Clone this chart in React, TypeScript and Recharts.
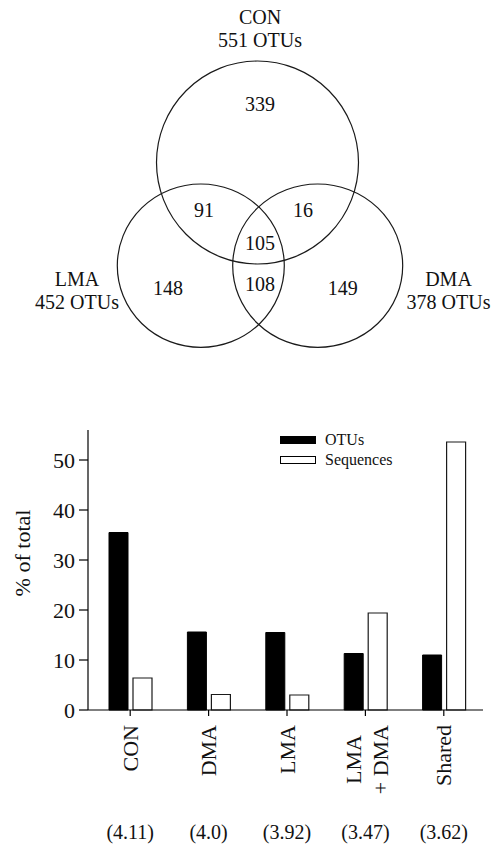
import React from "react"
import { Bar, BarChart, Legend, Scatter, ScatterChart, XAxis, YAxis } from "recharts"

// Venn: sets and region counts
const setNames = ["CON", "LMA", "DMA"]
const setTotals = [551, 452, 378]
const regionNames = ["CON", "CON+LMA", "CON+DMA", "All", "LMA", "LMA+DMA", "DMA"]
const regionCounts = [339, 91, 16, 105, 148, 108, 149]

// bars
const categories = ["CON", "DMA", "LMA", "LMA\n+ DMA", "Shared"]
const otus = [35.5, 15.6, 15.5, 11.3, 11.0]
const sequences = [6.4, 3.1, 3.0, 19.4, 53.6]
const diversity = ["(4.11)", "(4.0)", "(3.92)", "(3.47)", "(3.62)"]
const yTicks = [0, 10, 20, 30, 40, 50]

// venn layout (chart units = px)
const circleLayout = [
  { x: 257.5, y: 162.5, rx: 101, ry: 101.5 },
  { x: 200.8, y: 265.7, rx: 83.5, ry: 81.7 },
  { x: 317.7, y: 265.7, rx: 85, ry: 81.7 },
]
const setLabelPos = [
  { x: 260, y: 28.5 },
  { x: 77, y: 290 },
  { x: 448.5, y: 290 },
]
const regionLabelPos = [
  { x: 260, y: 104 },
  { x: 204, y: 210 },
  { x: 303, y: 210 },
  { x: 260, y: 242.7 },
  { x: 168, y: 288.3 },
  { x: 260, y: 284.3 },
  { x: 342.7, y: 288.3 },
]

const FONT = '"Liberation Serif", "Times New Roman", serif'

const circles = setNames.map((name, i) => ({ name, ...circleLayout[i] }))
const setLabels = setNames.map((name, i) => ({
  lines: [name, `${setTotals[i]} OTUs`],
  ...setLabelPos[i],
}))
const regionLabels = regionNames.map((name, i) => ({
  name,
  lines: [String(regionCounts[i])],
  ...regionLabelPos[i],
}))

const barData = categories.map((c, i) => ({
  name: c,
  otus: otus[i],
  sequences: sequences[i],
  div: diversity[i],
}))

const EllipseShape = (props: any) => {
  const { cx, cy, payload } = props
  return <ellipse cx={cx} cy={cy} rx={payload.rx} ry={payload.ry} fill="none" stroke="#1a1a1a" strokeWidth={1.2} />
}

const TextShape = (props: any) => {
  const { cx, cy, payload } = props
  const n = payload.lines.length
  return (
    <g>
      {payload.lines.map((l: string, k: number) => (
        <text
          key={k}
          x={cx}
          y={cy + (k - (n - 1) / 2) * 23}
          textAnchor="middle"
          dominantBaseline="central"
          fontFamily={FONT}
          fontSize={20}
          fill="#111"
        >
          {l}
        </text>
      ))}
    </g>
  )
}

const CategoryTick = (props: any) => {
  const { x, y, payload, index } = props
  const lines = String(payload.value).split("\n")
  const txt = { fontFamily: FONT, fontSize: 22, fill: "#111", dominantBaseline: "central" as const, textAnchor: "end" as const }
  return (
    <g>
      {lines.length === 1 ? (
        <text transform={`translate(${x},${y + 9}) rotate(-90)`} {...txt}>
          {lines[0]}
        </text>
      ) : (
        <>
          <text transform={`translate(${x - 12},${y + 19}) rotate(-90)`} {...txt}>
            {lines[0]}
          </text>
          <text transform={`translate(${x + 15},${y + 9}) rotate(-90)`} {...txt}>
            {lines[1]}
          </text>
        </>
      )}
      <text x={x} y={y + 116} textAnchor="middle" dominantBaseline="central" fontFamily={FONT} fontSize={20} fill="#111">
        {diversity[index]}
      </text>
    </g>
  )
}

const LegendContent = () => {
  const items = [
    { label: "OTUs", fill: "#000" },
    { label: "Sequences", fill: "#fff" },
  ]
  return (
    <div style={{ fontFamily: FONT, fontSize: 16, color: "#111" }}>
      {items.map((it) => (
        <div key={it.label} style={{ display: "flex", alignItems: "center", height: 20 }}>
          <span
            style={{
              display: "inline-block",
              width: 34,
              height: 6,
              background: it.fill,
              border: "1px solid #000",
              marginRight: 9,
            }}
          />
          <span>{it.label}</span>
        </div>
      ))}
    </div>
  )
}

export default function App() {
  return (
    <div style={{ position: "absolute", left: 0, top: 0, width: 493, height: 845, background: "#fff" }}>
      <ScatterChart width={493} height={410} margin={{ top: 0, right: 0, bottom: 0, left: 0 }}>
        <XAxis type="number" dataKey="x" domain={[0, 493]} hide height={0} />
        <YAxis type="number" dataKey="y" domain={[0, 410]} reversed hide width={0} />
        <Scatter data={circles} shape={EllipseShape} isAnimationActive={false} />
        <Scatter data={setLabels} shape={TextShape} isAnimationActive={false} />
        <Scatter data={regionLabels} shape={TextShape} isAnimationActive={false} />
      </ScatterChart>
      <BarChart
        width={493}
        height={435}
        data={barData}
        margin={{ top: 20, right: 10, bottom: 0, left: 0 }}
        barSize={19}
        barGap={5}
      >
        <XAxis
          dataKey="name"
          interval={0}
          height={135}
          padding={{ left: 3, right: 0 }}
          tickSize={6}
          tickMargin={0}
          axisLine={{ stroke: "#000", strokeWidth: 1.2 }}
          tickLine={{ stroke: "#000", strokeWidth: 1.2 }}
          tick={<CategoryTick />}
        />
        <YAxis
          domain={[0, 56]}
          ticks={yTicks}
          width={88}
          tickSize={9}
          tickMargin={4}
          axisLine={{ stroke: "#000", strokeWidth: 1.2 }}
          tickLine={{ stroke: "#000", strokeWidth: 1.2 }}
          tick={{ fontFamily: FONT, fontSize: 22, fill: "#111" }}
          label={{
            content: (p: any) => {
              const vb = p.viewBox
              return (
                <text
                  transform={`translate(${vb.x + 22},${vb.y + vb.height / 2 - 17}) rotate(-90)`}
                  textAnchor="middle"
                  dominantBaseline="central"
                  fontFamily={FONT}
                  fontSize={22}
                  fill="#111"
                >
                  % of total
                </text>
              )
            },
          }}
        />
        <Legend
          layout="vertical"
          align="center"
          verticalAlign="middle"
          wrapperStyle={{ left: 280, top: 20, width: 160, height: 40 }}
          content={<LegendContent />}
        />
        <Bar dataKey="otus" name="OTUs" fill="#000" stroke="#000" strokeWidth={1} isAnimationActive={false} />
        <Bar dataKey="sequences" name="Sequences" fill="#fff" stroke="#1a1a1a" strokeWidth={1.2} isAnimationActive={false} />
      </BarChart>
    </div>
  )
}
